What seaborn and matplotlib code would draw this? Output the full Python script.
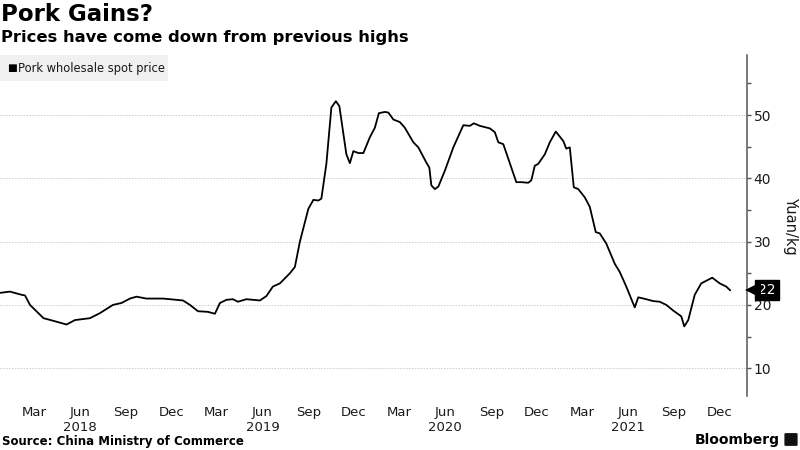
import matplotlib
matplotlib.use("Agg")
import matplotlib.pyplot as plt
import matplotlib.patches as mpatches
import matplotlib.transforms as mtransforms
import seaborn as sns
import pandas as pd
import numpy as np

dates = [
    "2018-01-06", "2018-01-26", "2018-02-18", "2018-02-25", "2018-03-07", "2018-04-03",
    "2018-04-22", "2018-05-19", "2018-06-05", "2018-07-05", "2018-07-25", "2018-08-20",
    "2018-09-06", "2018-09-23", "2018-10-06", "2018-10-26", "2018-11-28", "2018-12-12",
    "2019-01-07", "2019-01-21", "2019-02-06", "2019-02-26", "2019-03-12", "2019-03-22",
    "2019-04-04", "2019-04-17", "2019-04-27", "2019-05-14", "2019-06-10", "2019-06-23",
    "2019-07-06", "2019-07-20", "2019-08-09", "2019-08-19", "2019-08-29", "2019-09-15",
    "2019-09-25", "2019-10-05", "2019-10-11", "2019-10-21", "2019-10-31", "2019-11-09",
    "2019-11-16", "2019-11-30", "2019-12-07", "2019-12-14", "2019-12-24", "2020-01-03",
    "2020-01-16", "2020-01-26", "2020-02-03", "2020-02-15", "2020-02-22", "2020-03-03",
    "2020-03-16", "2020-03-26", "2020-04-12", "2020-04-22", "2020-05-08", "2020-05-14",
    "2020-05-18", "2020-05-25", "2020-06-01", "2020-06-14", "2020-07-01", "2020-07-21",
    "2020-08-03", "2020-08-11", "2020-08-23", "2020-09-12", "2020-09-22", "2020-09-29",
    "2020-10-09", "2020-11-04", "2020-11-14", "2020-11-28", "2020-12-04", "2020-12-11",
    "2020-12-18", "2020-12-31", "2021-01-10", "2021-01-22", "2021-02-06", "2021-02-12",
    "2021-02-19", "2021-02-27", "2021-03-08", "2021-03-21", "2021-03-31", "2021-04-12",
    "2021-04-20", "2021-05-03", "2021-05-20", "2021-05-30", "2021-06-12", "2021-06-29",
    "2021-07-06", "2021-07-22", "2021-08-05", "2021-08-18", "2021-08-31", "2021-09-14",
    "2021-09-30", "2021-10-06", "2021-10-14", "2021-10-27", "2021-11-09", "2021-12-01",
    "2021-12-16", "2021-12-29", "2022-01-06",
]
prices = [
    21.9, 22.1, 21.6, 21.5, 20.0, 17.9,
    17.5, 16.9, 17.6, 17.9, 18.7, 20.0,
    20.3, 21.0, 21.3, 21.0, 21.0, 20.9,
    20.7, 20.0, 19.0, 18.9, 18.6, 20.3,
    20.8, 20.9, 20.5, 20.9, 20.7, 21.4,
    22.9, 23.4, 25.0, 26.0, 30.0, 35.2,
    36.6, 36.5, 36.8, 42.3, 51.2, 52.2,
    51.4, 43.8, 42.4, 44.3, 44.0, 44.0,
    46.5, 48.0, 50.3, 50.5, 50.4, 49.3,
    48.9, 48.0, 45.7, 44.9, 42.5, 41.7,
    38.9, 38.3, 38.7, 41.2, 44.9, 48.4,
    48.3, 48.7, 48.3, 47.9, 47.3, 45.7,
    45.4, 39.4, 39.4, 39.3, 39.7, 42.0,
    42.3, 43.8, 45.7, 47.4, 45.9, 44.7,
    44.9, 38.6, 38.3, 37.0, 35.5, 31.5,
    31.3, 29.7, 26.5, 25.2, 22.9, 19.6,
    21.2, 20.9, 20.6, 20.5, 20.0, 19.1,
    18.2, 16.6, 17.6, 21.6, 23.4, 24.3,
    23.4, 22.9, 22.3,
]
tick_dates = [
    "2018-03-15", "2018-06-15", "2018-09-15", "2018-12-15",
    "2019-03-15", "2019-06-15", "2019-09-15", "2019-12-15",
    "2020-03-15", "2020-06-15", "2020-09-15", "2020-12-15",
    "2021-03-15", "2021-06-15", "2021-09-15", "2021-12-15",
]
tick_labels = [
    "Mar", "Jun\n2018", "Sep", "Dec",
    "Mar", "Jun\n2019", "Sep", "Dec",
    "Mar", "Jun\n2020", "Sep", "Dec",
    "Mar", "Jun\n2021", "Sep", "Dec",
]
series_name = "Pork wholesale spot price"
last_label = "22"

sns.set_style("white")
plt.rcParams["font.family"] = ["DejaVu Sans"]
plt.rcParams["text.color"] = "black"

df = pd.DataFrame({"date": pd.to_datetime(dates), "price": prices})

fig = plt.figure(figsize=(8, 4.5), dpi=100)
ax = fig.add_axes([0.0, 0.12, 0.9334, 0.7578])

sns.lineplot(data=df, x="date", y="price", ax=ax, color="black", linewidth=1.3)

ax.set_xlim(pd.Timestamp("2018-01-06"), pd.Timestamp("2022-02-08"))
ax.set_ylim(5.6, 59.5)

ax.set_xticks(pd.to_datetime(tick_dates))
ax.set_xticklabels(tick_labels, fontsize=9.5, color="#1a1a1a", linespacing=1.25)
ax.tick_params(axis="x", length=0, pad=7)

ax.yaxis.tick_right()
ax.yaxis.set_label_position("right")
ax.set_yticks([10, 20, 30, 40, 50])
ax.set_yticks([15, 25, 35, 45, 55], minor=True)
ax.tick_params(axis="y", which="major", length=3, width=1, color="#555555",
               labelsize=10, labelcolor="#1a1a1a", pad=2)
ax.tick_params(axis="y", which="minor", length=3, width=1, color="#555555", right=True)
ax.set_ylabel("Yuan/kg", rotation=270, fontsize=10.5, color="#1a1a1a", labelpad=19)
ax.set_xlabel("")

for s in ["top", "left", "bottom"]:
    ax.spines[s].set_visible(False)
ax.spines["right"].set_color("#555555")
ax.spines["right"].set_linewidth(1.1)

ax.yaxis.grid(True, which="major", linestyle=(0, (1.5, 1.5)), color="#cccccc", linewidth=0.7)
ax.xaxis.grid(False)

# legend box
fig.patches.append(mpatches.Rectangle((0, 1 - 81 / 450), 168 / 800, 26 / 450,
                                      transform=fig.transFigure, facecolor="#f0f0f0",
                                      edgecolor="none", zorder=0))
fig.text(7 / 800, 1 - 68.5 / 450, "■", fontsize=7.5, va="center", ha="left", color="black")
fig.text(17.5 / 800, 1 - 68.5 / 450, series_name, fontsize=8.3, va="center", ha="left", color="#1a1a1a")

# last value tag
last_val = df["price"].iloc[-1]
ax.annotate(last_label, xy=(1.0, last_val), xycoords=("axes fraction", "data"),
            xytext=(8.3, 0), textcoords="offset points", ha="left", va="center",
            fontsize=10, color="white",
            bbox=dict(boxstyle="square,pad=0.22", facecolor="black", edgecolor="black"),
            annotation_clip=False, zorder=5)
tri_tr = mtransforms.offset_copy(ax.get_yaxis_transform(), fig=fig, x=6.5, y=0, units="dots")
ax.plot([1.0], [last_val], marker="<", markersize=11, color="black",
        transform=tri_tr, clip_on=False, markeredgewidth=0, zorder=5)

fig.text(1 / 800, 1 - 3 / 450, "Pork Gains?", fontsize=16.5, fontweight="bold", va="top", ha="left")
fig.text(1 / 800, 1 - 30 / 450, "Prices have come down from previous highs", fontsize=11.8,
         fontweight="bold", va="top", ha="left")
fig.text(2 / 800, 1 - 441 / 450, "Source: China Ministry of Commerce", fontsize=8.5,
         fontweight="bold", va="center", ha="left")
fig.text(780 / 800, 1 - 440 / 450, "Bloomberg", fontsize=10, fontweight="bold",
         va="center", ha="right")
fig.patches.append(mpatches.FancyBboxPatch((786 / 800, 1 - 445 / 450), 10 / 800, 11 / 450,
                                           boxstyle="round,pad=0.002", transform=fig.transFigure,
                                           facecolor="#111111", edgecolor="none"))

fig.savefig("out.png", dpi=100)
